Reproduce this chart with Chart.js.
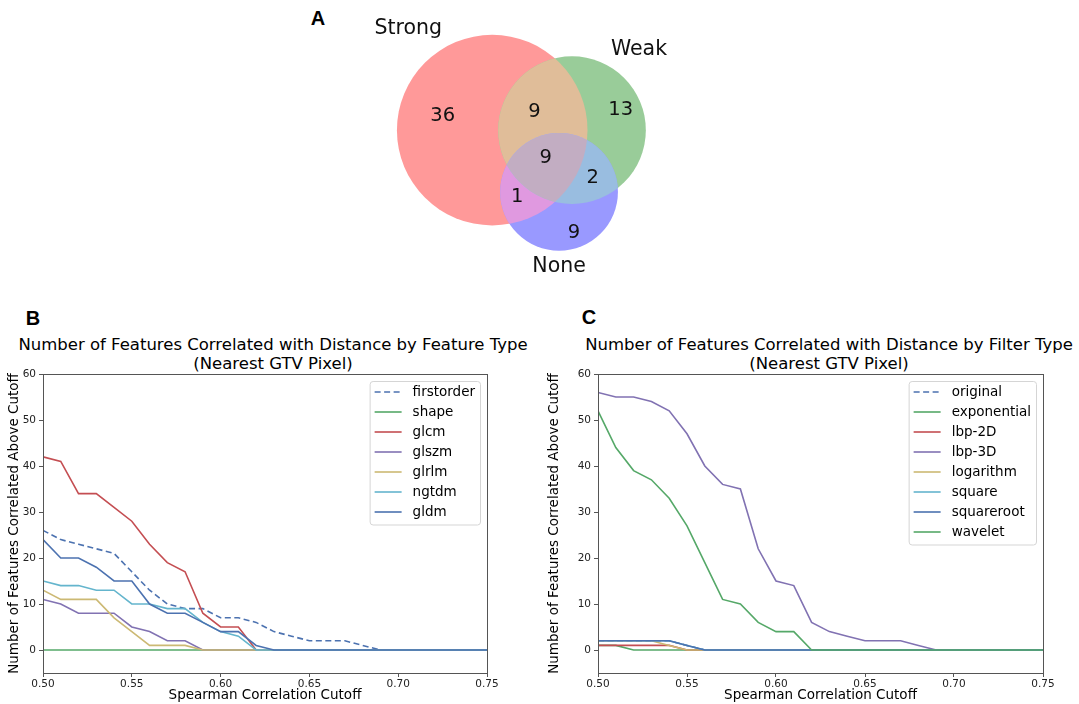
<!DOCTYPE html>
<html>
<head>
<meta charset="utf-8">
<script src="https://cdn.jsdelivr.net/npm/chart.js@4.4.0/dist/chart.umd.min.js"></script>
<style>
    body { margin: 0; background: #fff; font-family: "DejaVu Sans", sans-serif; }
    #page { position: relative; width: 1079px; height: 704px; overflow: hidden; }
    canvas { position: absolute; }
    .panel { position: absolute; font-family: "Liberation Sans", Arial, sans-serif; font-weight: bold; font-size: 20px; color: #000; width: 30px; height: 22px; line-height: 22px; text-align: center; }
    .ttl { position: absolute; width: 600px; text-align: center; font-size: 16.5px; line-height: 19px; color: #000; }
</style>
</head>
<body>
<div id="page">
    <div class="panel" style="left:303px; top:7px;">A</div>
    <div class="panel" style="left:18px; top:307px;">B</div>
    <div class="panel" style="left:574px; top:306px;">C</div>

    <div class="ttl" style="left:-27px; top:335px;">Number of Features Correlated with Distance by Feature Type<br>(Nearest GTV Pixel)</div>
    <div class="ttl" style="left:529px; top:335px;">Number of Features Correlated with Distance by Filter Type<br>(Nearest GTV Pixel)</div>

    <canvas id="venn" width="400" height="290" style="left:300px; top:0px;"></canvas>
    <canvas id="byFeature" width="540" height="374" style="left:0px; top:330px;"></canvas>
    <canvas id="byFilter" width="539" height="374" style="left:540px; top:330px;"></canvas>
</div>

<script>
// ---- dane: diagram Venna ----
const vennSetNames = ["Strong", "Weak", "None"];
const vennRegionKeys = ["100", "010", "110", "001", "101", "011", "111"];
const vennRegionCounts = [36, 13, 9, 9, 1, 2, 9];

// ---- dane: wykresy liniowe ----
const cutoffs = [0.50, 0.51, 0.52, 0.53, 0.54, 0.55, 0.56, 0.57, 0.58, 0.59, 0.60, 0.61, 0.62,
                 0.63, 0.64, 0.65, 0.66, 0.67, 0.68, 0.69, 0.70, 0.71, 0.72, 0.73, 0.74, 0.75];
const xTicks = [0.50, 0.55, 0.60, 0.65, 0.70, 0.75];
const yTicks = [0, 10, 20, 30, 40, 50, 60];

const featureTypes = ["firstorder", "shape", "glcm", "glszm", "glrlm", "ngtdm", "gldm"];
const firstorder = [26, 24, 23, 22, 21, 17, 13, 10, 9, 9, 7, 7, 6, 4, 3, 2, 2, 2, 1, 0, 0, 0, 0, 0, 0, 0];
const shape      = [0, 0, 0, 0, 0, 0, 0, 0, 0, 0, 0, 0, 0, 0, 0, 0, 0, 0, 0, 0, 0, 0, 0, 0, 0, 0];
const glcm       = [42, 41, 34, 34, 31, 28, 23, 19, 17, 8, 5, 5, 0, 0, 0, 0, 0, 0, 0, 0, 0, 0, 0, 0, 0, 0];
const glszm      = [11, 10, 8, 8, 8, 5, 4, 2, 2, 0, 0, 0, 0, 0, 0, 0, 0, 0, 0, 0, 0, 0, 0, 0, 0, 0];
const glrlm      = [13, 11, 11, 11, 7, 4, 1, 1, 1, 0, 0, 0, 0, 0, 0, 0, 0, 0, 0, 0, 0, 0, 0, 0, 0, 0];
const ngtdm      = [15, 14, 14, 13, 13, 10, 10, 9, 9, 6, 4, 3, 0, 0, 0, 0, 0, 0, 0, 0, 0, 0, 0, 0, 0, 0];
const gldm       = [24, 20, 20, 18, 15, 15, 10, 8, 8, 6, 4, 4, 1, 0, 0, 0, 0, 0, 0, 0, 0, 0, 0, 0, 0, 0];

const filterTypes = ["original", "exponential", "lbp-2D", "lbp-3D", "logarithm", "square", "squareroot", "wavelet"];
const original    = [2, 2, 2, 2, 2, 1, 0, 0, 0, 0, 0, 0, 0, 0, 0, 0, 0, 0, 0, 0, 0, 0, 0, 0, 0, 0];
const exponential = [1, 1, 0, 0, 0, 0, 0, 0, 0, 0, 0, 0, 0, 0, 0, 0, 0, 0, 0, 0, 0, 0, 0, 0, 0, 0];
const lbp2D       = [1, 1, 1, 1, 1, 0, 0, 0, 0, 0, 0, 0, 0, 0, 0, 0, 0, 0, 0, 0, 0, 0, 0, 0, 0, 0];
const lbp3D       = [56, 55, 55, 54, 52, 47, 40, 36, 35, 22, 15, 14, 6, 4, 3, 2, 2, 2, 1, 0, 0, 0, 0, 0, 0, 0];
const logarithm   = [2, 2, 2, 2, 1, 0, 0, 0, 0, 0, 0, 0, 0, 0, 0, 0, 0, 0, 0, 0, 0, 0, 0, 0, 0, 0];
const square      = [2, 2, 2, 2, 2, 1, 0, 0, 0, 0, 0, 0, 0, 0, 0, 0, 0, 0, 0, 0, 0, 0, 0, 0, 0, 0];
const squareroot  = [2, 2, 2, 2, 2, 1, 0, 0, 0, 0, 0, 0, 0, 0, 0, 0, 0, 0, 0, 0, 0, 0, 0, 0, 0, 0];
const wavelet     = [52, 44, 39, 37, 33, 27, 19, 11, 10, 6, 4, 4, 0, 0, 0, 0, 0, 0, 0, 0, 0, 0, 0, 0, 0, 0];

// paleta seaborn "deep"
const palette = ["#4C72B0", "#55A868", "#C44E52", "#8172B2", "#CCB974", "#64B5CD"];
const axisColor = "#555";


/* ---- Venn: uklad kol (jednostki = sqrt(liczebnosci)) ---- */
const vennCenters = [[0, 0], [6.21, 0], [5.20, -4.81]];
const vennCountPos = [[-3.85, 1.10], [10.0, 1.57], [3.28, 1.44], [6.37, -7.98], [1.95, -5.18], [7.82, -3.74], [4.16, -2.14]];
const vennNamePos = [[-6.53, 7.93], [11.42, 6.30], [5.20, -10.62]];
const vennBase = [[1, 0, 0], [0, 0.5, 0], [0, 0, 1]];   // red, green, blue jak w matplotlib_venn
const vennAlpha = 0.4;

const setSizes = vennSetNames.map((_, s) =>
    vennRegionKeys.reduce((acc, k, i) => acc + (k[s] === "1" ? vennRegionCounts[i] : 0), 0));

function regionColor(key) {
    const idx = [0, 1, 2].filter(s => key[s] === "1");
    let mix = [0, 0, 0];
    const f = idx.length === 1 ? 1 : idx.length === 2 ? 0.7 : 0.4;
    idx.forEach(s => { for (let c = 0; c < 3; c++) mix[c] += vennBase[s][c] * f; });
    mix = mix.map(v => Math.min(1, v));
    const rgb = mix.map(v => Math.round(255 * (1 - vennAlpha + vennAlpha * v)));
    return `rgb(${rgb.join(",")})`;
}

const vennPlugin = {
    id: "vennRegions",
    beforeDatasetsDraw(chart) {
        const { ctx, scales: { x, y } } = chart;
        const circles = vennSetNames.map((_, i) => {
            const pt = chart.getDatasetMeta(i).data[0];
            const cx = vennCenters[i][0];
            const r = x.getPixelForValue(cx + Math.sqrt(setSizes[i])) - x.getPixelForValue(cx);
            return { x: pt.x, y: pt.y, r };
        });
        const order = vennRegionKeys.map((k, i) => i)
            .sort((a, b) => vennRegionKeys[a].split("1").length - vennRegionKeys[b].split("1").length);

        order.forEach(i => {
            const key = vennRegionKeys[i];
            const idx = [0, 1, 2].filter(s => key[s] === "1");
            ctx.save();
            idx.slice(1).forEach(s => {
                ctx.beginPath();
                ctx.arc(circles[s].x, circles[s].y, circles[s].r, 0, Math.PI * 2);
                ctx.clip();
            });
            ctx.beginPath();
            ctx.arc(circles[idx[0]].x, circles[idx[0]].y, circles[idx[0]].r, 0, Math.PI * 2);
            ctx.fillStyle = regionColor(key);
            ctx.fill();
            ctx.restore();
        });

        ctx.save();
        ctx.textAlign = "center";
        ctx.textBaseline = "middle";
        ctx.fillStyle = "#111";
        ctx.font = '19.5px "DejaVu Sans"';
        vennRegionCounts.forEach((n, i) => {
            ctx.fillText(String(n), x.getPixelForValue(vennCountPos[i][0]), y.getPixelForValue(vennCountPos[i][1]));
        });
        ctx.font = '20.5px "DejaVu Sans"';
        vennSetNames.forEach((name, i) => {
            ctx.fillText(name, x.getPixelForValue(vennNamePos[i][0]), y.getPixelForValue(vennNamePos[i][1]));
        });
        ctx.restore();
    }
};

new Chart(document.getElementById("venn"), {
    type: "scatter",
    data: {
        datasets: vennSetNames.map((name, i) => ({
            label: name,
            data: [{ x: vennCenters[i][0], y: vennCenters[i][1] }],
            pointRadius: 0
        }))
    },
    options: {
        responsive: false,
        animation: false,
        layout: { padding: 0 },
        plugins: { legend: { display: false }, tooltip: { enabled: false } },
        scales: {
            x: { type: "linear", min: -14.96, max: 16.17, display: false },
            y: { type: "linear", min: -12.44, max: 10.13, display: false }
        }
    },
    plugins: [vennPlugin]
});


/* ---- ramka osi (4 boki jak w matplotlib) ---- */
const framePlugin = {
    id: "frame",
    afterDatasetsDraw(chart) {
        const { ctx, chartArea: a } = chart;
        ctx.save();
        ctx.strokeStyle = axisColor;
        ctx.lineWidth = 1;
        ctx.strokeRect(Math.round(a.left) + 0.5, Math.round(a.top) + 0.5,
            Math.round(a.right - a.left), Math.round(a.bottom - a.top));
        ctx.restore();
    }
};

/* ---- legenda w prawym gornym rogu ---- */
const insideLegend = {
    id: "insideLegend",
    afterDraw(chart) {
        const { ctx, chartArea: a } = chart;
        const sets = chart.data.datasets;
        const rowH = 20, sample = 27, gap = 11, padL = 5, padR = 5;
        ctx.save();
        ctx.font = '13.5px "DejaVu Sans"';
        const textW = Math.max(...sets.map(d => ctx.measureText(d.label).width));
        const w = padL + sample + gap + textW + padR;
        const h = sets.length * rowH + 3.5;
        const right = a.right - 7, top = a.top + 7;
        const left = right - w;

        ctx.beginPath();
        ctx.roundRect(left + 0.5, top + 0.5, w, h, 3);
        ctx.fillStyle = "rgba(255,255,255,0.8)";
        ctx.fill();
        ctx.strokeStyle = "#d5d5d5";
        ctx.lineWidth = 1;
        ctx.stroke();

        sets.forEach((d, i) => {
            const cy = top + 1 + rowH / 2 + i * rowH;
            ctx.beginPath();
            ctx.setLineDash(d.borderDash || []);
            ctx.strokeStyle = d.borderColor;
            ctx.lineWidth = d.borderWidth;
            ctx.moveTo(left + padL, cy);
            ctx.lineTo(left + padL + sample, cy);
            ctx.stroke();
            ctx.setLineDash([]);
            ctx.fillStyle = "#000";
            ctx.textBaseline = "middle";
            ctx.fillText(d.label, left + padL + sample + gap, cy);
        });
        ctx.restore();
    }
};

function lineChart(canvasId, names, series, leftW, rightPad) {
    const n = names.length;
    const datasets = names.map((name, i) => ({
        label: name,
        data: cutoffs.map((c, j) => ({ x: c, y: series[i][j] })),
        borderColor: palette[i % palette.length],
        borderWidth: 1.6,
        borderDash: i === 0 ? [6, 3.5] : [],
        pointRadius: 0,
        tension: 0,
        fill: false,
        order: n - i          // pozniejsze serie na wierzchu, jak w matplotlib
    }));

    return new Chart(document.getElementById(canvasId), {
        type: "line",
        data: { datasets },
        options: {
            responsive: false,
            animation: false,
            layout: { padding: { top: 44, right: rightPad, left: 0, bottom: 0 } },
            plugins: { legend: { display: false }, tooltip: { enabled: false } },
            scales: {
                x: {
                    type: "linear",
                    min: 0.5,
                    max: 0.75,
                    afterBuildTicks: ax => { ax.ticks = xTicks.map(v => ({ value: v })); },
                    afterFit: ax => { ax.height = 31; },
                    ticks: {
                        callback: v => v.toFixed(2),
                        font: { family: "DejaVu Sans", size: 10.5 },
                        color: "#222",
                        maxRotation: 0,
                        autoSkip: false,
                        padding: 1
                    },
                    grid: { drawOnChartArea: false, tickLength: 4, color: axisColor },
                    border: { display: false },
                    title: {
                        display: true,
                        text: "Spearman Correlation Cutoff",
                        font: { family: "DejaVu Sans", size: 13.5 },
                        color: "#000",
                        padding: { top: 0, bottom: 0 }
                    }
                },
                y: {
                    type: "linear",
                    min: -5,
                    max: 60,
                    afterBuildTicks: ax => { ax.ticks = yTicks.map(v => ({ value: v })); },
                    afterFit: ax => { ax.width = leftW; },
                    ticks: {
                        font: { family: "DejaVu Sans", size: 10.5 },
                        color: "#222",
                        padding: 3
                    },
                    grid: { drawOnChartArea: false, tickLength: 4, color: axisColor },
                    border: { display: false },
                    title: {
                        display: true,
                        text: "Number of Features Correlated Above Cutoff",
                        font: { family: "DejaVu Sans", size: 13.5 },
                        color: "#000",
                        padding: { top: 6, bottom: 0 }
                    }
                }
            }
        },
        plugins: [framePlugin, insideLegend]
    });
}

lineChart("byFeature", featureTypes, [firstorder, shape, glcm, glszm, glrlm, ngtdm, gldm], 43, 53);
lineChart("byFilter", filterTypes, [original, exponential, lbp2D, lbp3D, logarithm, square, squareroot, wavelet], 58, 36);
</script>
</body>
</html>
